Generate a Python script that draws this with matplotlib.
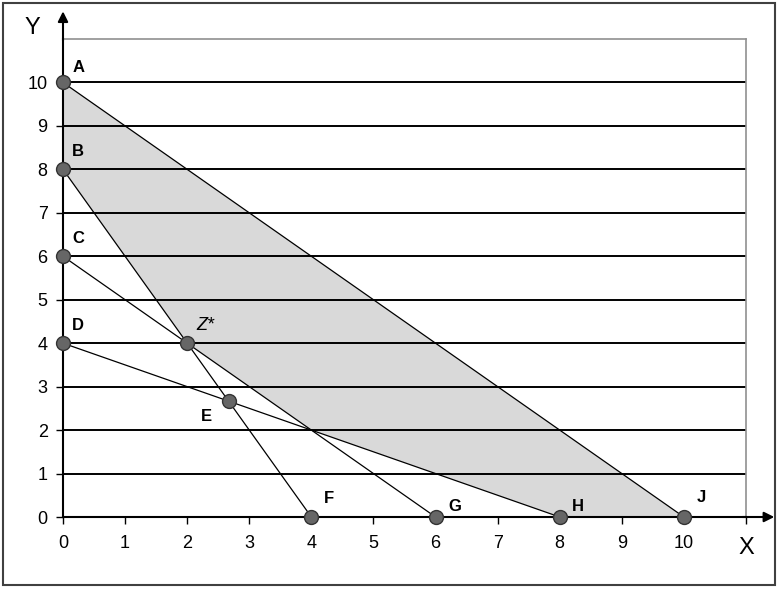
import matplotlib
matplotlib.use('Agg')

import matplotlib.pyplot as plt
from matplotlib.patches import Polygon, Rectangle

plt.rcParams['font.family'] = ['Liberation Sans', 'DejaVu Sans']

# named points (label, x, y)
point_names = ['A', 'B', 'C', 'D', 'Z*', 'E', 'F', 'G', 'H', 'J']
point_x = [0, 0, 0, 0, 2, 8 / 3, 4, 6, 8, 10]
point_y = [10, 8, 6, 4, 4, 8 / 3, 0, 0, 0, 0]

# constraint lines as pairs of point names
line_pairs = [('A', 'J'), ('B', 'F'), ('C', 'G'), ('D', 'H')]

# shaded feasible region
region_x = [0, 10, 8, 4, 2, 0]
region_y = [10, 0, 0, 2, 4, 8]

x_ticks = list(range(0, 11))
y_ticks = list(range(0, 11))


def main():
    fig = plt.figure(figsize=(7.78, 5.89), dpi=100)
    fig.patches.append(Rectangle((3 / 778, 4 / 589), 772 / 778, 582 / 589,
                                 transform=fig.transFigure, fill=False,
                                 edgecolor='#404040', linewidth=1.5))

    ax = fig.add_axes([63 / 778, 72 / 589, 683 / 778, 478 / 589])
    ax.set_xlim(0, 11)
    ax.set_ylim(0, 11)

    # horizontal gridlines
    for yv in y_ticks[1:]:
        ax.axhline(yv, color='black', linewidth=1.4, zorder=1)

    ax.add_patch(Polygon(list(zip(region_x, region_y)), closed=True,
                         facecolor='#d9d9d9', edgecolor='none', zorder=0))

    pos = dict(zip(point_names, zip(point_x, point_y)))
    for p, q in line_pairs:
        ax.plot([pos[p][0], pos[q][0]], [pos[p][1], pos[q][1]],
                color='black', linewidth=0.9, zorder=2)

    ax.plot(point_x, point_y, 'o', linestyle='none', markersize=10,
            markerfacecolor='#666666', markeredgecolor='#333333',
            markeredgewidth=1, clip_on=False, zorder=5)

    # point labels
    offsets = {'A': (0.15, 0.35), 'B': (0.15, 0.4), 'C': (0.15, 0.4),
               'D': (0.15, 0.4), 'Z*': (0.15, 0.4), 'E': (-0.45, -0.35),
               'F': (0.2, 0.42), 'G': (0.2, 0.25), 'H': (0.2, 0.25),
               'J': (0.2, 0.45)}
    for name, xv, yv in zip(point_names, point_x, point_y):
        dx, dy = offsets[name]
        if name == 'Z*':
            ax.text(xv + dx, yv + dy, name, fontsize=13, style='italic',
                    ha='left', va='center', zorder=6)
        else:
            ax.text(xv + dx, yv + dy, name, fontsize=12, fontweight='bold',
                    ha='left', va='center', zorder=6)

    for s in ['top', 'right']:
        ax.spines[s].set_color('#909090')
        ax.spines[s].set_linewidth(1.2)
    for s in ['left', 'bottom']:
        ax.spines[s].set_color('black')
        ax.spines[s].set_linewidth(1.5)

    ax.set_xticks(x_ticks + [11])
    ax.set_xticklabels([str(v) for v in x_ticks] + [''])
    ax.set_yticks(y_ticks)
    ax.tick_params(axis='both', direction='out', length=5, width=1,
                   labelsize=13, colors='black', pad=8)
    ax.tick_params(axis='y', pad=6)

    # axis arrows
    ax.annotate('', xy=(0, 11.7), xytext=(0, 10.9),
                arrowprops=dict(arrowstyle='-|>', color='black', lw=1.5,
                                mutation_scale=15),
                annotation_clip=False)
    ax.annotate('', xy=(11.5, 0), xytext=(10.9, 0),
                arrowprops=dict(arrowstyle='-|>', color='black', lw=1.5,
                                mutation_scale=15),
                annotation_clip=False)

    ax.text(-0.5, 11.25, 'Y', fontsize=17, ha='center', va='center')
    ax.text(11.0, -0.72, 'X', fontsize=17, ha='center', va='center')

    fig.savefig('out.png', dpi=100)
    plt.close(fig)


if __name__ == "__main__":
    main()
